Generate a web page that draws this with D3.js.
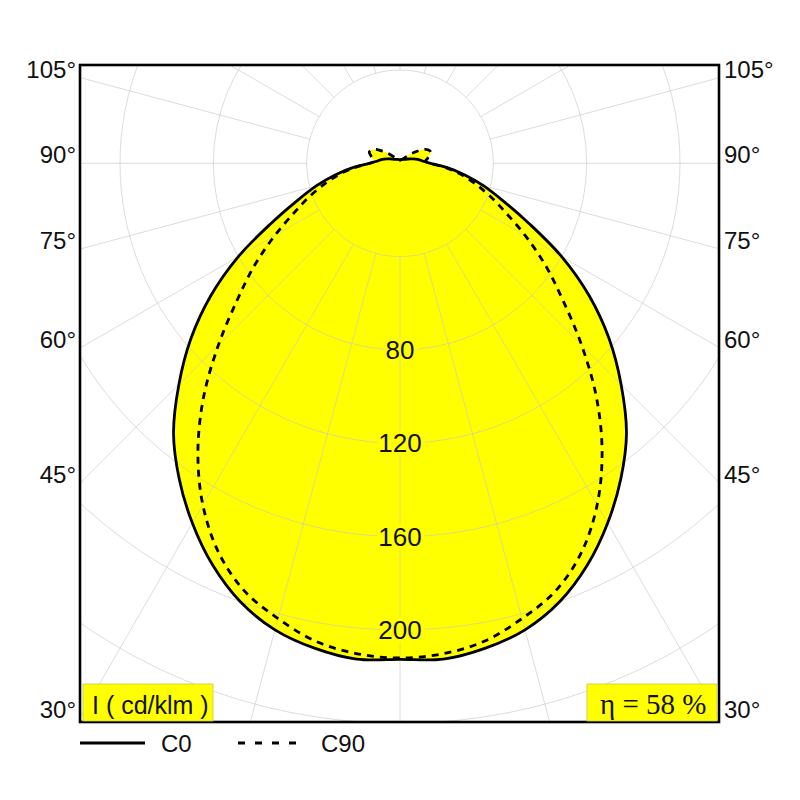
<!DOCTYPE html>
<html>
<head>
<meta charset="utf-8">
<script src="https://cdn.jsdelivr.net/npm/d3@7"></script>
<style>
  html, body { margin: 0; padding: 0; background: #fff; }
  text { font-family: "Liberation Sans", Arial, sans-serif; fill: #111; }
</style>
</head>
<body>
<div id="chart"></div>
<script>
// gamma angles (0 = straight down) and intensities in cd/klm
const gammas = [0, 5, 10, 15, 20, 25, 30, 35, 40, 45, 50, 55, 60, 65, 70, 75, 80, 85, 90,
                95, 100, 105, 110, 115, 120, 125, 130, 140, 150, 165, 180];
const c0 = [212.6, 213.3, 211, 207, 200, 190, 178, 165, 151, 134, 117, 99, 80, 61, 47, 37, 28, 20, 13,
            10, 8.5, 7, 5.5, 4.5, 3.5, 3, 2.6, 2.2, 1.9, 1.6, 1.4];
const c90 = [212, 211, 208, 202, 195, 184, 169, 151, 131, 110, 91, 76, 62, 50, 41, 33, 26, 19, 13,
             11, 12, 13, 14, 13.5, 12, 9, 6.5, 3, 2, 1.5, 1.4];
const ringValues = [40, 80, 120, 160, 200, 240, 280];
const ringLabels = [80, 120, 160, 200];
const angleLabels = [105, 90, 75, 60, 45, 30];
const seriesNames = ["C0", "C90"];
const unitLabel = "I ( cd/klm )";
const effLabel = "η = 58 %";

const width = 800, height = 800;
const frame = { left: 80, right: 719, top: 65, bottom: 722 };
const cx = 400, cy = 163.3;

const svg = d3.select("#chart").append("svg")
    .attr("width", width)
    .attr("height", height);

const r = d3.scaleLinear().domain([0, 240]).range([0, 560]);

svg.append("defs").append("clipPath").attr("id", "clip")
  .append("rect")
    .attr("x", frame.left).attr("y", frame.top)
    .attr("width", frame.right - frame.left)
    .attr("height", frame.bottom - frame.top);

const plot = svg.append("g").attr("clip-path", "url(#clip)");
const g = plot.append("g").attr("transform", `translate(${cx},${cy})`);

// build closed symmetric curve: right half then mirrored left half
function curvePoints(vals) {
    const pts = [];
    for (let i = gammas.length - 1; i >= 0; i--) {
        pts.push([Math.PI - gammas[i] * Math.PI / 180, r(vals[i])]);
    }
    for (let i = 1; i < gammas.length; i++) {
        pts.push([Math.PI + gammas[i] * Math.PI / 180, r(vals[i])]);
    }
    return pts;
}

const radial = d3.lineRadial()
    .angle(d => d[0])
    .radius(d => d[1])
    .curve(d3.curveCatmullRomClosed);

// yellow fill for both curves
[c0, c90].forEach(vals => {
    g.append("path")
        .attr("d", radial(curvePoints(vals)))
        .attr("fill", "#ffff00")
        .attr("stroke", "none");
});

// grid
const grid = g.append("g")
    .attr("stroke", "#c4c4c4")
    .attr("stroke-opacity", 0.6)
    .attr("fill", "none")
    .attr("stroke-width", 1);

grid.selectAll("circle")
    .data(ringValues)
    .enter().append("circle")
    .attr("r", d => r(d));

grid.selectAll("line")
    .data(d3.range(0, 360, 15))
    .enter().append("line")
    .attr("x1", d => r(40) * Math.sin(d * Math.PI / 180))
    .attr("y1", d => r(40) * Math.cos(d * Math.PI / 180))
    .attr("x2", d => r(320) * Math.sin(d * Math.PI / 180))
    .attr("y2", d => r(320) * Math.cos(d * Math.PI / 180));

// curves
g.append("path")
    .attr("d", radial(curvePoints(c0)))
    .attr("fill", "none")
    .attr("stroke", "#000")
    .attr("stroke-width", 2.8);

g.append("path")
    .attr("d", radial(curvePoints(c90)))
    .attr("fill", "none")
    .attr("stroke", "#000")
    .attr("stroke-width", 2.8)
    .attr("stroke-dasharray", "7,6");

// ring labels
g.selectAll("text.ring")
    .data(ringLabels)
    .enter().append("text")
    .attr("class", "ring")
    .attr("x", 0)
    .attr("y", d => r(d))
    .attr("dy", "0.35em")
    .attr("text-anchor", "middle")
    .attr("font-size", 26)
    .attr("stroke", "#ffff00")
    .attr("stroke-width", 7)
    .attr("paint-order", "stroke")
    .text(d => d);

// frame
svg.append("rect")
    .attr("x", frame.left).attr("y", frame.top)
    .attr("width", frame.right - frame.left)
    .attr("height", frame.bottom - frame.top)
    .attr("fill", "none")
    .attr("stroke", "#000")
    .attr("stroke-width", 2.6);

// angle labels on both sides
const halfW = cx - frame.left;
angleLabels.forEach(a => {
    const y = cy + halfW * Math.tan((90 - a) * Math.PI / 180);
    svg.append("text")
        .attr("x", frame.left - 4).attr("y", y)
        .attr("text-anchor", "end")
        .attr("font-size", 24)
        .text(a + "°");
    svg.append("text")
        .attr("x", frame.right + 5).attr("y", y)
        .attr("text-anchor", "start")
        .attr("font-size", 24)
        .text(a + "°");
});

// unit box
svg.append("rect")
    .attr("x", 83).attr("y", 684)
    .attr("width", 130).attr("height", 37)
    .attr("fill", "#ffff00")
    .attr("stroke", "#c8c850")
    .attr("stroke-width", 0.8);
svg.append("text")
    .attr("x", 92).attr("y", 714)
    .attr("font-size", 25)
    .text(unitLabel);

// efficiency box
svg.append("rect")
    .attr("x", 587).attr("y", 684)
    .attr("width", 130).attr("height", 37)
    .attr("fill", "#ffff00")
    .attr("stroke", "#c8c850")
    .attr("stroke-width", 0.8);
svg.append("text")
    .attr("x", 600).attr("y", 714)
    .attr("font-size", 29)
    .style("font-family", "'Liberation Serif', 'Times New Roman', serif")
    .text(effLabel);

// legend
const legend = svg.append("g");
legend.append("line")
    .attr("x1", 80).attr("x2", 145)
    .attr("y1", 743).attr("y2", 743)
    .attr("stroke", "#000").attr("stroke-width", 2.8);
legend.append("text")
    .attr("x", 161).attr("y", 752)
    .attr("font-size", 24)
    .text(seriesNames[0]);
legend.append("line")
    .attr("x1", 238).attr("x2", 296)
    .attr("y1", 743).attr("y2", 743)
    .attr("stroke", "#000").attr("stroke-width", 2.8)
    .attr("stroke-dasharray", "7,10");
legend.append("text")
    .attr("x", 321).attr("y", 752)
    .attr("font-size", 24)
    .text(seriesNames[1]);
</script>
</body>
</html>
